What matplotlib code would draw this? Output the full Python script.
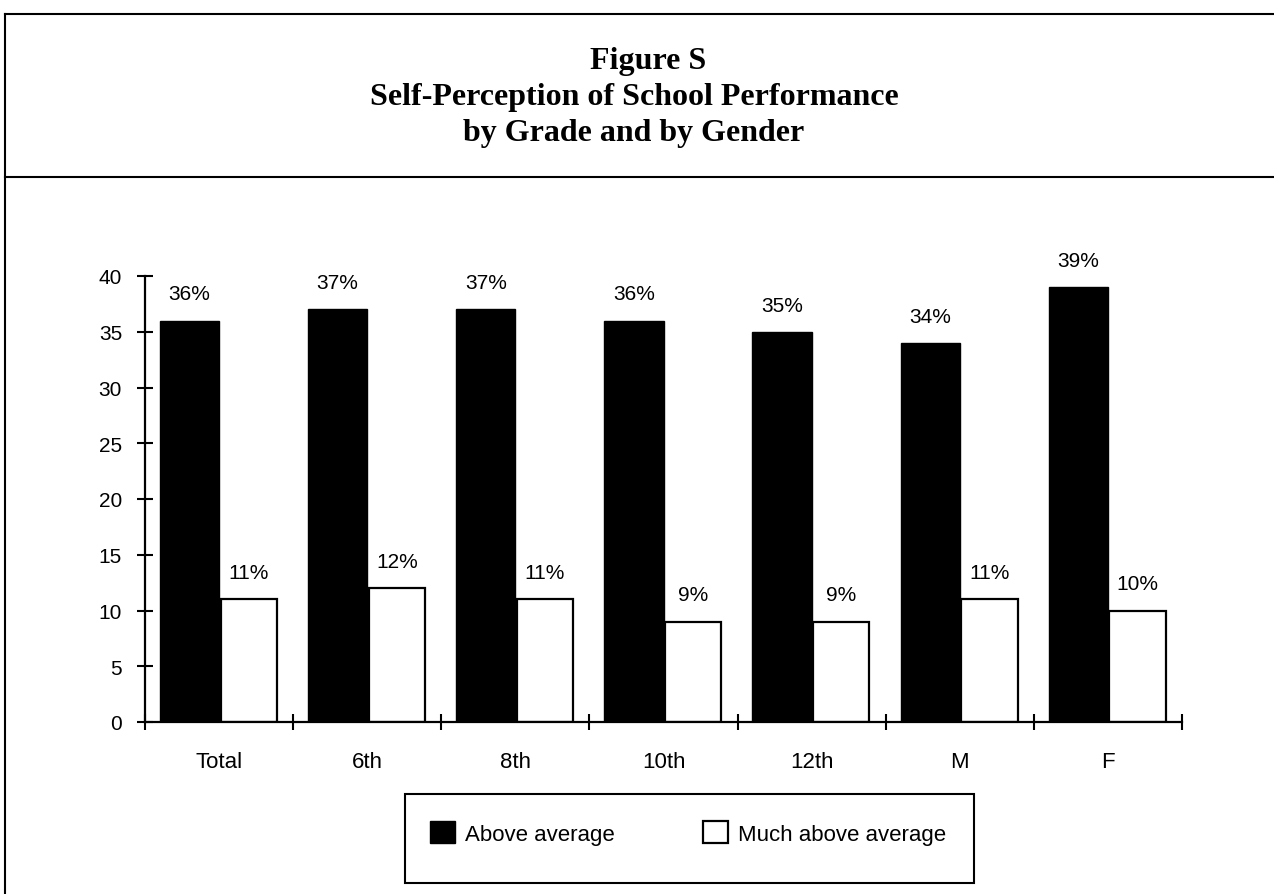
import matplotlib
matplotlib.use("Agg")
import matplotlib.pyplot as plt
from matplotlib.lines import Line2D
from matplotlib.patches import Rectangle
import numpy as np

categories = ["Total", "6th", "8th", "10th", "12th", "M", "F"]
above_avg = [36, 37, 37, 36, 35, 34, 39]
much_above = [11, 12, 11, 9, 9, 11, 10]
yticks = [0, 5, 10, 15, 20, 25, 30, 35, 40]
title_lines = ["Figure S", "Self-Perception of School Performance", "by Grade and by Gender"]

plt.rcParams["font.family"] = ["Liberation Sans", "DejaVu Sans"]

fig = plt.figure(figsize=(12.74, 8.95), dpi=100)
ax = fig.add_axes([145 / 1274, 1 - 723 / 895, (1182 - 145) / 1274, (723 - 277) / 895])

x = np.arange(len(categories))
b1 = ax.bar(x - 0.40, above_avg, 0.40, align="edge", color="black",
            edgecolor="black", linewidth=1, label="Above average")
b2 = ax.bar(x + 0.01, much_above, 0.38, align="edge", color="white",
            edgecolor="black", linewidth=1.6, label="Much above average")

for i, (a, m) in enumerate(zip(above_avg, much_above)):
    ax.text(i - 0.20, a + 1.9, f"{a}%", ha="center", va="baseline", fontsize=15)
    ax.text(i + 0.20, m + 1.9, f"{m}%", ha="center", va="baseline", fontsize=15)

ax.set_xlim(-0.5, len(categories) - 0.5)
ax.set_ylim(0, 40)
ax.set_yticks(yticks)
ax.set_xticks(x)
ax.set_xticklabels(categories)
ax.set_xticks(np.arange(len(categories) + 1) - 0.5, minor=True)
ax.tick_params(axis="x", which="major", length=0, pad=21, labelsize=16)
ax.tick_params(axis="x", which="minor", direction="inout", length=11, width=1.5)
ax.tick_params(axis="y", direction="inout", length=11, width=1.5, pad=11, labelsize=15)
for s in ["top", "right"]:
    ax.spines[s].set_visible(False)
for s in ["left", "bottom"]:
    ax.spines[s].set_linewidth(1.6)

# frame lines of the figure
fig.add_artist(Line2D([0.004, 1.0], [1 - 15 / 895, 1 - 15 / 895], color="black", lw=1.5))
fig.add_artist(Line2D([0.004, 1.0], [1 - 178 / 895, 1 - 178 / 895], color="black", lw=1.5))
fig.add_artist(Line2D([0.004, 0.004], [0, 1 - 15 / 895], color="black", lw=1.5))

# title block (first line sits a little right in the scan)
for txt, xp, yp in zip(title_lines, [648, 634, 634], [61, 98, 134]):
    fig.text(xp / 1274, 1 - yp / 895, txt, ha="center", va="center", fontsize=23,
             family=["Liberation Serif", "DejaVu Serif"], weight="bold")

# legend box
fig.add_artist(Rectangle((405 / 1274, 1 - 884 / 895), (974 - 405) / 1274, (884 - 795) / 895,
                         transform=fig.transFigure, fill=False, edgecolor="black", lw=1.5))
fig.legend(handles=[b1, b2], loc="center", bbox_to_anchor=(688 / 1274, 1 - 834 / 895),
           ncol=2, frameon=False, fontsize=16, handlelength=1.1, handleheight=1.1,
           handletextpad=0.45, columnspacing=4.0)

fig.savefig("out.png", dpi=100)
